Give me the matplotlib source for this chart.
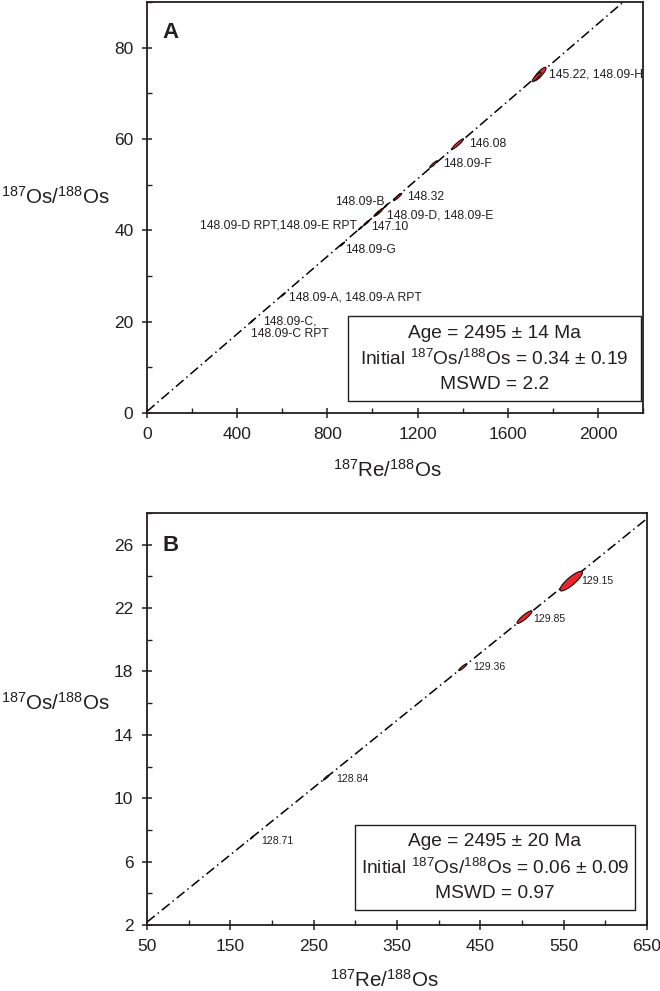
import numpy as np
import matplotlib
matplotlib.use("Agg")
import matplotlib.pyplot as plt
from matplotlib.ticker import MultipleLocator

plt.rcParams['font.family'] = ['Liberation Sans', 'DejaVu Sans']
plt.rcParams['mathtext.default'] = 'regular'

# decay constant of 187Re (1/yr)
lam = 1.666e-11

# panel A: Re-Os isochron, samples 145 / 146 / 147 / 148
a_names = ['145.22', '148.09-H', '146.08', '148.09-F', '148.32', '148.09-B',
           '148.09-D', '148.09-E', '147.10', '148.09-D RPT', '148.09-E RPT',
           '148.09-G', '148.09-A', '148.09-A RPT', '148.09-C', '148.09-C RPT']
a_re = [1742, 1728, 1378, 1271, 1112, 1062, 1029, 1018, 973, 950, 944, 867, 606, 600, 468, 464]
a_os = [74.2, 73.6, 58.9, 54.5, 47.3, 45.5, 44.0, 43.6, 41.6, 40.6, 40.4, 37.0, 26.0, 25.8, 20.2, 20.0]
a_sx = [28, 20, 26, 17, 18, 9, 18, 12, 13, 7, 7, 10, 8, 6, 7, 5]
a_sy = [1.5, 1.05, 1.15, 0.75, 0.8, 0.4, 0.82, 0.54, 0.58, 0.32, 0.32, 0.45, 0.36, 0.28, 0.32, 0.24]
a_rho = [0.86, 0.9, 0.94, 0.93, 0.94, 0.94, 0.93, 0.94, 0.94, 0.95, 0.95, 0.95, 0.95, 0.95, 0.95, 0.95]
a_age, a_age_err = 2495, 14
a_init, a_init_err = 0.34, 0.19
a_mswd = '2.2'

# labels on panel A: text, sample it sits next to, offset (px), alignment
a_labels = ['145.22, 148.09-H', '146.08', '148.09-F', '148.32', '148.09-B',
            '148.09-D, 148.09-E', '147.10', '148.09-D RPT,148.09-E RPT', '148.09-G',
            '148.09-A, 148.09-A RPT', '148.09-C,\n148.09-C RPT']
a_label_at = ['145.22', '146.08', '148.09-F', '148.32', '148.09-B', '148.09-D',
              '147.10', '148.09-D RPT', '148.09-G', '148.09-A', '148.09-C']
a_label_off = [(9, 0), (11, 0), (10, 0), (9, 0), (-2, 3), (8, -3), (5, -4),
               (-4, 2), (3, -6), (5, -3), (37, -7)]
a_label_ha = ['left', 'left', 'left', 'left', 'right', 'left', 'left', 'right',
              'left', 'left', 'center']

# panel B: samples 128 / 129
b_names = ['129.15', '129.85', '129.36', '128.84', '128.71']
b_re = [559, 503, 429, 265, 176]
b_os = [23.7, 21.43, 18.27, 11.3, 7.52]
b_sx = [13.5, 9, 5, 3.5, 2]
b_sy = [0.62, 0.4, 0.22, 0.16, 0.1]
b_rho = [0.86, 0.9, 0.92, 0.93, 0.94]
b_age, b_age_err = 2495, 20
b_init, b_init_err = 0.06, 0.09
b_mswd = '0.97'
b_label_off = [(10, 0), (9, -2), (10, 0), (10, -1), (9, -3)]

ink = '#231f20'
red = '#e8262b'
iso_label = '$^{187}$Os/$^{188}$Os'
re_label = '$^{187}$Re/$^{188}$Os'


def ellipse(ax, x, y, sx, sy, rho):
    t = np.linspace(0, 2 * np.pi, 120)
    ex = x + sx * np.cos(t)
    ey = y + sy * (rho * np.cos(t) + np.sqrt(1 - rho ** 2) * np.sin(t))
    ax.fill(ex, ey, facecolor=red, edgecolor='black', lw=0.7, zorder=3)


def style_axes(ax):
    for s in ax.spines.values():
        s.set_linewidth(1.3)
        s.set_color(ink)
    ax.tick_params(which='major', direction='inout', length=7.5, width=1.1,
                   labelsize=12.5, color=ink, labelcolor=ink)
    ax.tick_params(axis='y', which='major', pad=6)
    ax.tick_params(axis='x', which='major', pad=6.5)
    ax.tick_params(which='minor', direction='in', length=3.5, width=1.0, color=ink)


def isochron(ax, age, init, xlo, xhi):
    slope = np.exp(lam * age * 1e6) - 1
    xs = np.array([xlo, xhi])
    ax.plot(xs, init + slope * xs, color='black', lw=1.1,
            dashes=(6.5, 2.5, 1, 2.5), zorder=2)


def stats_box(ax, box, age, age_err, init, init_err, mswd):
    x0, y0, x1, y1 = box
    ax.add_patch(plt.Rectangle((x0, y0), x1 - x0, y1 - y0, transform=ax.transAxes,
                               facecolor='white', edgecolor=ink, lw=1.0, zorder=4))
    xc = (x0 + x1) / 2
    h = y1 - y0
    lines = [f'Age = {age} ± {age_err} Ma',
             f'Initial {iso_label} = {init:.2f} ± {init_err:.2f}',
             f'MSWD = {mswd}']
    for i, s in enumerate(lines):
        ax.text(xc, y1 - h * (0.2 + 0.3 * i), s, transform=ax.transAxes,
                ha='center', va='center', fontsize=13.8, color=ink, zorder=5)


fig = plt.figure(figsize=(6.6, 9.91), dpi=100)

# ---- panel A ----
axA = fig.add_axes([147 / 660, 1 - 413 / 991, 496 / 660, 411 / 991])
isochron(axA, a_age, a_init, 0, 2200)
for i in range(len(a_names)):
    ellipse(axA, a_re[i], a_os[i], a_sx[i], a_sy[i], a_rho[i])
for txt, at, off, ha in zip(a_labels, a_label_at, a_label_off, a_label_ha):
    k = a_names.index(at)
    axA.annotate(txt, (a_re[k], a_os[k]), xytext=off, textcoords='offset pixels',
                 ha=ha, va='center', fontsize=8.7, color=ink,
                 multialignment='center', linespacing=1.0, zorder=6)
axA.set_xlim(0, 2200)
axA.set_ylim(0, 90)
axA.xaxis.set_major_locator(MultipleLocator(400))
axA.xaxis.set_minor_locator(MultipleLocator(200))
axA.yaxis.set_major_locator(MultipleLocator(20))
axA.yaxis.set_minor_locator(MultipleLocator(10))
style_axes(axA)
stats_box(axA, (0.406, 0.029, 0.995, 0.236), a_age, a_age_err, a_init, a_init_err, a_mswd)
axA.text(0.048, 0.925, 'A', transform=axA.transAxes, ha='center', va='center',
         fontsize=16, fontweight='bold', color=ink)
axA.text(0.484, -0.139, re_label, transform=axA.transAxes, ha='center',
         va='center', fontsize=14.8, color=ink)
axA.text(-0.185, 0.526, iso_label, transform=axA.transAxes, ha='center',
         va='center', fontsize=14.8, color=ink)

# ---- panel B ----
axB = fig.add_axes([147 / 660, 1 - 925 / 991, 500 / 660, 412 / 991])
isochron(axB, b_age, b_init, 50, 650)
for i in range(len(b_names)):
    ellipse(axB, b_re[i], b_os[i], b_sx[i], b_sy[i], b_rho[i])
    axB.annotate(b_names[i], (b_re[i], b_os[i]), xytext=b_label_off[i],
                 textcoords='offset pixels', ha='left', va='center',
                 fontsize=7.6, color=ink, zorder=6)
axB.set_xlim(50, 650)
axB.set_ylim(2, 28)
axB.set_xticks([50, 150, 250, 350, 450, 550, 650])
axB.xaxis.set_minor_locator(MultipleLocator(50))
axB.set_yticks([2, 6, 10, 14, 18, 22, 26])
axB.yaxis.set_minor_locator(MultipleLocator(2))
style_axes(axB)
stats_box(axB, (0.416, 0.036, 0.976, 0.243), b_age, b_age_err, b_init, b_init_err, b_mswd)
axB.text(0.048, 0.922, 'B', transform=axB.transAxes, ha='center', va='center',
         fontsize=16, fontweight='bold', color=ink)
axB.text(0.474, -0.133, re_label, transform=axB.transAxes, ha='center',
         va='center', fontsize=14.8, color=ink)
axB.text(-0.184, 0.539, iso_label, transform=axB.transAxes, ha='center',
         va='center', fontsize=14.8, color=ink)

fig.savefig('out.png', dpi=100)
